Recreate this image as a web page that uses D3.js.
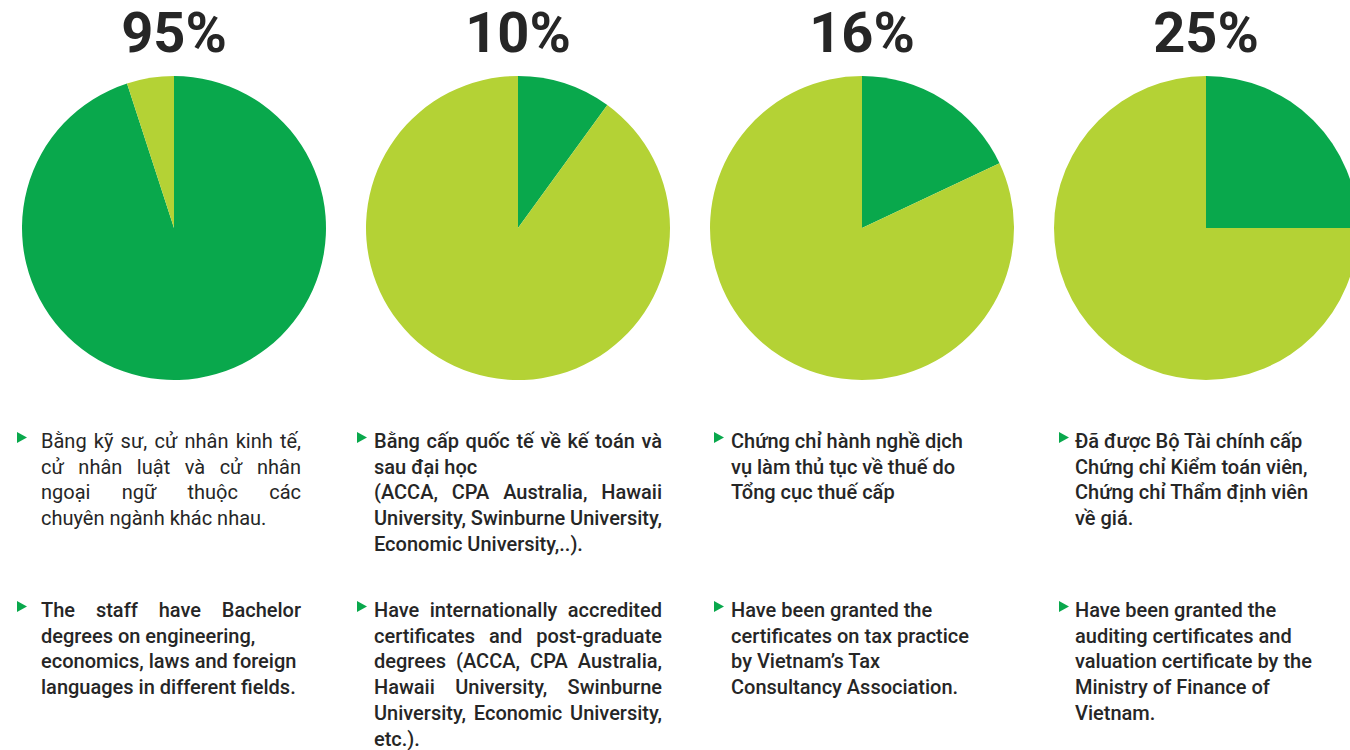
<!DOCTYPE html>
<html>
<head>
<meta charset="utf-8">
<script src="https://cdn.jsdelivr.net/npm/d3@7"></script>
<style>
  body { margin: 0; background: #fff; }
  svg { display: block; font-family: Roboto, "Noto Sans", sans-serif; }
</style>
</head>
<body>
<div id="graf"></div>
<script>
// chart values
const percentLabels = ['95%', '10%', '16%', '25%']
const sliceValues = [95, 10, 18, 25]

const textVi = [
  ['Bằng kỹ sư, cử nhân kinh tế,', 'cử nhân luật và cử nhân', 'ngoại ngữ thuộc các', 'chuyên ngành khác nhau.'],
  ['Bằng cấp quốc tế về kế toán và', 'sau đại học', '(ACCA, CPA Australia, Hawaii', 'University, Swinburne University,', 'Economic University,..).'],
  ['Chứng chỉ hành nghề dịch', 'vụ làm thủ tục về thuế do', 'Tổng cục thuế cấp'],
  ['Đã được Bộ Tài chính cấp', 'Chứng chỉ Kiểm toán viên,', 'Chứng chỉ Thẩm định viên', 'về giá.']
]
const justifyVi = [
  [true, true, true, false],
  [true, false, true, true, false],
  [false, false, false],
  [false, false, false, false]
]

const textEn = [
  ['The staff have Bachelor', 'degrees on engineering,', 'economics, laws and foreign', 'languages in different fields.'],
  ['Have internationally accredited', 'certificates and post-graduate', 'degrees (ACCA, CPA Australia,', 'Hawaii University, Swinburne', 'University, Economic University,', 'etc.).'],
  ['Have been granted the', 'certificates on tax practice', 'by Vietnam’s Tax', 'Consultancy Association.'],
  ['Have been granted the', 'auditing certificates and', 'valuation certificate by the', 'Ministry of Finance of', 'Vietnam.']
]
const justifyEn = [
  [true, false, false, false],
  [true, true, true, true, true, false],
  [false, false, false, false],
  [false, false, false, false, false]
]

const anchoTotal = 1350
const altoTotal = 750
const verde = '#09a84c'
const lima = '#b4d235'
const tinta = '#262626'

// text block layout per column
const textLeft = [41, 374, 731, 1075]
const textRight = [301, 662, 1000, 1340]
const bulletLeft = [17, 357, 714, 1059]

const svg = d3.select('#graf')
  .append('svg')
  .attr('width', anchoTotal)
  .attr('height', altoTotal)

// one column per pie
const x = d3.scalePoint()
  .domain(d3.range(percentLabels.length))
  .range([174, 1206])

const radio = 152
const cy = 228

const pie = d3.pie().sort(null)
const arc = d3.arc().innerRadius(0).outerRadius(radio)

const cols = svg.selectAll('g.col')
  .data(sliceValues)
  .enter()
  .append('g')
  .attr('class', 'col')

cols.each(function (v, i) {
  const g = d3.select(this)
  const cx = x(i)

  g.append('g')
    .attr('transform', `translate(${cx}, ${cy})`)
    .selectAll('path')
    .data(pie([v, 100 - v]))
    .enter()
    .append('path')
    .attr('d', arc)
    .attr('fill', (d, j) => j === 0 ? verde : lima)

  g.append('text')
    .attr('x', cx)
    .attr('y', 52)
    .attr('text-anchor', 'middle')
    .attr('font-size', 56)
    .attr('font-weight', 700)
    .attr('fill', tinta)
    .text(percentLabels[i])

  drawBlock(g, textVi[i], justifyVi[i], i, 448, i === 0 ? 400 : 500)
  drawBlock(g, textEn[i], justifyEn[i], i, 617, 500)
})

function drawBlock(g, lines, just, i, base, weight) {
  const lh = 25.7
  const left = textLeft[i]
  const right = textRight[i]
  const bx = bulletLeft[i]
  g.append('path')
    .attr('d', `M${bx},${base - 16}L${bx + 10},${base - 10.5}L${bx},${base - 5}Z`)
    .attr('fill', verde)

  lines.forEach((line, k) => {
    const t = g.append('text')
      .attr('x', left)
      .attr('y', base + k * lh)
      .attr('font-size', 20)
      .attr('font-weight', weight)
      .attr('fill', tinta)
      .text(line)
    if (just[k]) {
      const w = t.node().getComputedTextLength()
      const gaps = line.split(' ').length - 1
      if (gaps > 0) t.attr('word-spacing', (right - left - w) / gaps)
    }
  })
}
</script>
</body>
</html>
